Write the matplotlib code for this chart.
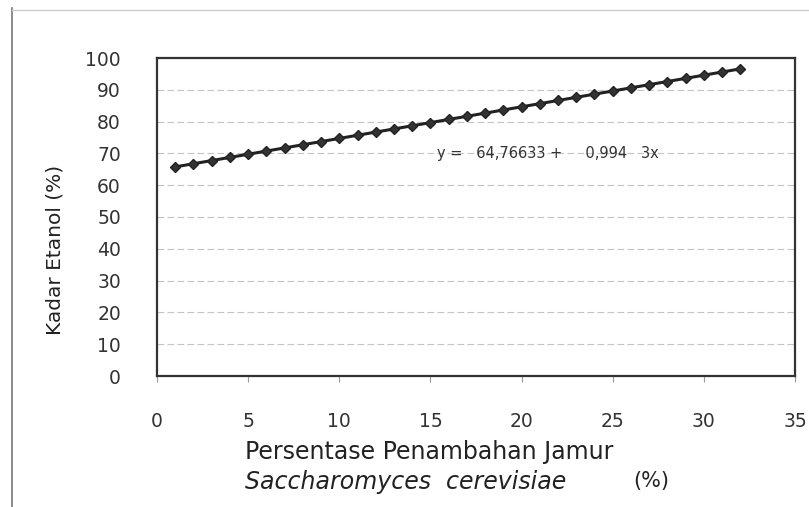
import matplotlib
matplotlib.use("Agg")
import matplotlib.pyplot as plt
import numpy as np
from matplotlib.lines import Line2D

# Data
x_vals = list(range(1, 33))
y_vals = [65.76, 66.75, 67.75, 68.74, 69.74, 70.73, 71.73, 72.72, 73.72, 74.71,
          75.70, 76.70, 77.69, 78.69, 79.68, 80.68, 81.67, 82.66, 83.66, 84.65,
          85.65, 86.64, 87.64, 88.63, 89.62, 90.62, 91.61, 92.61, 93.60, 94.60,
          95.59, 96.59]
x_ticks = [0, 5, 10, 15, 20, 25, 30, 35]
y_ticks = [0, 10, 20, 30, 40, 50, 60, 70, 80, 90, 100]
equation = "y =   64,76633 +     0,994   3x"

plt.rcParams['font.family'] = ['DejaVu Sans']

fig = plt.figure(figsize=(8.09, 5.07), dpi=100)
ax = fig.add_axes([157/809, 1-376/507, (795-157)/809, (376-58)/507])

ax.plot(x_vals, y_vals, color='#222222', lw=2.2, marker='D', markersize=5.5,
        markerfacecolor='#333333', markeredgecolor='#222222', zorder=3)

ax.set_xlim(0, 35)
ax.set_ylim(0, 100)
ax.set_xticks(x_ticks)
ax.set_yticks(y_ticks)
ax.set_xticklabels([str(t) for t in x_ticks], fontsize=13.5, color='#333333')
ax.set_yticklabels([str(t) for t in y_ticks], fontsize=13.5, color='#333333')
ax.tick_params(axis='x', length=4, pad=22, color='#999999')
ax.tick_params(axis='y', length=0, pad=26)

ax.grid(axis='y', color='#c4c4c4', lw=0.8, linestyle=(0, (6, 3)))
ax.grid(axis='x', visible=False)
for s in ax.spines.values():
    s.set_color('#333333')
    s.set_linewidth(1.6)

ax.text(21.45, 70, equation, fontsize=10.5, color='#333333', ha='center', va='center')

fig.text(55/809, 1-250/507, "Kadar Etanol (%)", fontsize=14.5, rotation=90,
         color='#222222', ha='center', va='center')

fig.text(245/809, 1-452/507, "Persentase Penambahan Jamur", fontsize=17,
         color='#222222', ha='left', va='center')
fig.text(245/809, 1-482/507, "Saccharomyces  cerevisiae", fontsize=17,
         style='italic', color='#222222', ha='left', va='center')
fig.text(633/809, 1-481/507, "(%)", fontsize=15, color='#222222',
         ha='left', va='center')

# outer chart frame remnants
fig.add_artist(Line2D([12/809, 12/809], [0, 1-8/507], color='#777777', lw=1.2))
fig.add_artist(Line2D([12/809, 1], [1-10/507, 1-10/507], color='#cccccc', lw=1.0))

fig.savefig("out.png", dpi=100, facecolor='white')
